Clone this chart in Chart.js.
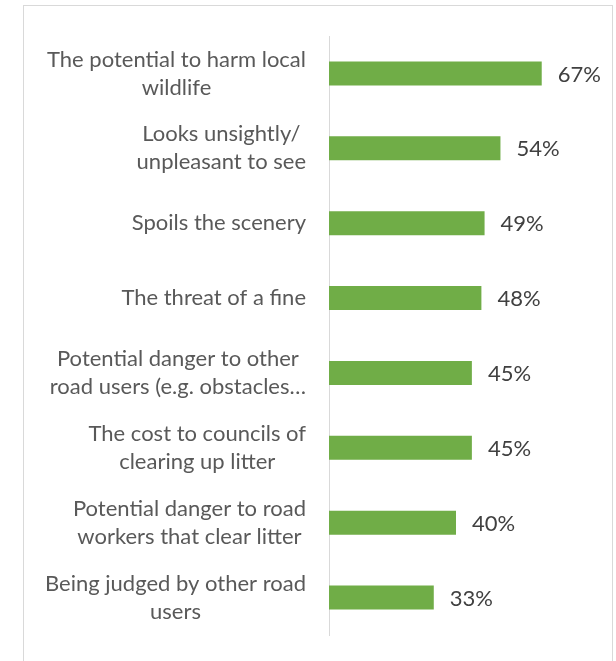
<!DOCTYPE html>
<html>
<head>
<meta charset="utf-8">
<script src="https://cdn.jsdelivr.net/npm/chart.js@4/dist/chart.umd.min.js"></script>
<style>
  html, body { margin: 0; padding: 0; background: #fff; overflow: hidden; }
  #wrap { position: relative; width: 616px; height: 661px; }
  #frame { position: absolute; left: 23px; top: 5px; width: 588px; height: 700px; border: 1px solid #d9d9d9; }
  canvas { position: absolute; left: 0; top: 0; }
</style>
</head>
<body>
<div id="wrap">
  <div id="frame"></div>
  <canvas id="myChart" width="616" height="661"></canvas>
</div>
<script>
// data
const categories = [
  ['The potential to harm local', 'wildlife'],
  ['Looks unsightly/', 'unpleasant to see'],
  ['Spoils the scenery'],
  ['The threat of a fine'],
  ['Potential danger to other', 'road users (e.g. obstacles…'],
  ['The cost to councils of', 'clearing up litter'],
  ['Potential danger to road', 'workers that clear litter'],
  ['Being judged by other road', 'users']
];
const values = [67, 54, 49, 48, 45, 45, 40, 33];

const labelFont = '22px Lato, sans-serif';

// draws the wrapped category labels (block right aligned, lines centred) and the value labels
const labelPlugin = {
  id: 'labels',
  afterDraw(chart) {
    const c = chart.ctx;
    const y = chart.scales.y;
    c.save();
    c.font = labelFont;
    c.textBaseline = 'middle';
    categories.forEach((lines, i) => {
      const cy = y.getPixelForTick(i);
      const w = Math.max(...lines.map(l => c.measureText(l).width));
      const mid = y.right - 23 - w / 2;
      c.fillStyle = '#595959';
      c.textAlign = 'center';
      lines.forEach((l, k) => {
        c.fillText(l, mid, cy + (k - (lines.length - 1) / 2) * 28);
      });
    });
    const meta = chart.getDatasetMeta(0);
    c.textAlign = 'left';
    c.fillStyle = '#404040';
    meta.data.forEach((bar, i) => {
      c.fillText(values[i] + '%', bar.x + 16, bar.y + 1);
    });
    c.restore();
  }
};

new Chart(document.getElementById('myChart'), {
  type: 'bar',
  data: {
    labels: categories,
    datasets: [{
      data: values,
      backgroundColor: '#70ad47',
      borderWidth: 0,
      barPercentage: 0.32,
      categoryPercentage: 1
    }]
  },
  options: {
    indexAxis: 'y',
    responsive: false,
    animation: false,
    layout: { padding: { left: 0, top: 36, right: 33, bottom: 26 } },
    plugins: { legend: { display: false }, tooltip: { enabled: false } },
    scales: {
      x: {
        min: 0, max: 80,
        display: false,
        grid: { display: false }
      },
      y: {
        grid: { display: false, drawTicks: false },
        border: { display: true, color: '#d9d9d9', width: 1 },
        ticks: { display: false },
        afterFit(scale) { scale.width = 329; }
      }
    }
  },
  plugins: [labelPlugin]
});
</script>
</body>
</html>
